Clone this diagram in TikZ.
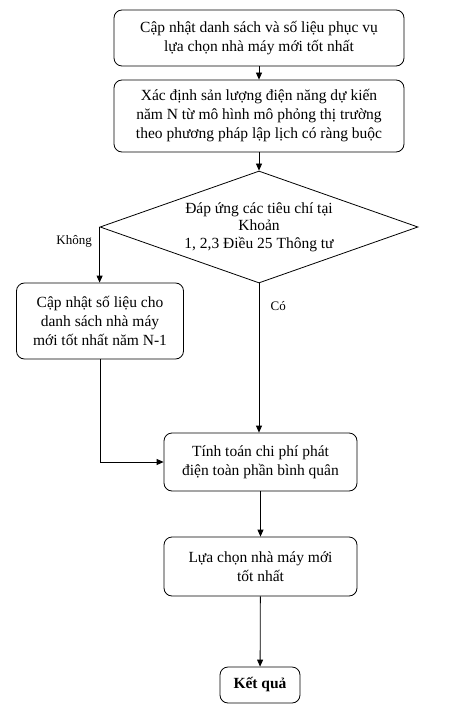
\documentclass[tikz,border=0pt]{standalone}
\usepackage{fontspec}
\setmainfont{Liberation Serif}
\usetikzlibrary{shapes.geometric, arrows.meta, positioning, calc}

\tikzset{
  stepbox/.style={draw, rounded corners=8pt, align=center, inner sep=2pt,
    font=\fontsize{15.5}{19}\selectfont},
  decision/.style={draw, diamond, aspect=2.84, inner sep=0pt, align=center,
    minimum width=318pt, minimum height=112pt, font=\fontsize{15.5}{17.5}\selectfont},
  flow/.style={-{Triangle[length=7pt,width=6pt]}, line width=0.8pt},
  branch/.style={font=\fontsize{13}{15}\selectfont}
}

\begin{document}
\begin{tikzpicture}[x=1pt, y=-1pt, line width=0.8pt]
  \useasboundingbox (0,0) rectangle (450,722);

  \node[stepbox, minimum width=290pt, minimum height=56pt] (update) at (259,38)
    {Cập nhật danh sách và số liệu phục vụ\\lựa chọn nhà máy mới tốt nhất};
  \node[stepbox, minimum width=290pt, minimum height=72pt] (forecast) at (259,116)
    {Xác định sản lượng điện năng dự kiến\\năm N từ mô hình mô phỏng thị trường\\theo phương pháp lập lịch có ràng buộc};
  \node[decision] (criteria) at (259,227)
    {Đáp ứng các tiêu chí tại\\Khoản\\1, 2,3 Điều 25 Thông tư};
  \node[stepbox, minimum width=167pt, minimum height=76pt] (refresh) at (100,321)
    {Cập nhật số liệu cho\\danh sách nhà máy\\mới tốt nhất năm N-1};
  \node[stepbox, minimum width=193pt, minimum height=58pt] (cost) at (260.5,462)
    {Tính toán chi phí phát\\điện toàn phần bình quân};
  \node[stepbox, minimum width=193pt, minimum height=59pt] (select) at (260.5,566.5)
    {Lựa chọn nhà máy mới\\tốt nhất};
  \node[stepbox, minimum width=80pt, minimum height=36pt] (result) at (260,685)
    {\textbf{Kết quả}};

  \draw[flow] (update) -- (forecast);
  \draw[flow] (forecast.south) -- (criteria.north);
  \draw[flow] (criteria.west) -- node[branch, pos=0.25, left=4pt]{Không} (criteria.west |- refresh.north);
  \draw[flow] (criteria.south) -- node[branch, pos=0.15, right=8pt]{Có} (criteria.south |- cost.north);
  \draw[flow] (refresh.south) |- (cost.west);
  \draw[flow] (cost) -- (select);
  \draw[flow] (select) -- (result);
\end{tikzpicture}
\end{document}
